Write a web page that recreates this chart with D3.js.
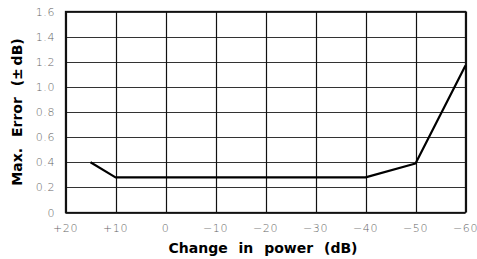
<!DOCTYPE html>
<html><head><meta charset="utf-8">
<script src="https://cdn.jsdelivr.net/npm/d3@7"></script>
<style>body{margin:0;background:#fff}svg{display:block}</style>
</head><body>
<svg id="c" width="477" height="259"></svg>
<script>
const xTicks = [20, 10, 0, -10, -20, -30, -40, -50, -60];
const xTickLabels = ["+20", "+10", "0", "\u221210", "\u221220", "\u221230", "\u221240", "\u221250", "\u221260"];
const yTicks = [0, 0.2, 0.4, 0.6, 0.8, 1.0, 1.2, 1.4, 1.6];
const yTickLabels = ["0", "0.2", "0.4", "0.6", "0.8", "1.0", "1.2", "1.4", "1.6"];
const powerChange = [15, 10, -40, -50, -60];
const maxError = [0.40, 0.28, 0.28, 0.39, 1.17];

const svg = d3.select("#c");
const x = d3.scaleLinear().domain([20, -60]).range([65.5, 465.5]);
const y = d3.scaleLinear().domain([0, 1.6]).range([212.5, 11.5]);

// horizontal grid
svg.append("g").selectAll("line").data(yTicks).join("line")
  .attr("x1", x(20)).attr("x2", x(-60))
  .attr("y1", d => Math.round(y(d)) + 0.5).attr("y2", d => Math.round(y(d)) + 0.5)
  .attr("stroke", "#333").attr("stroke-width", 1.2);
// vertical grid
svg.append("g").selectAll("line").data(xTicks).join("line")
  .attr("y1", y(0)).attr("y2", y(1.6))
  .attr("x1", d => Math.round(x(d)) + 0.5).attr("x2", d => Math.round(x(d)) + 0.5)
  .attr("stroke", "#111").attr("stroke-width", 1.2);

// frame
svg.append("rect").attr("x", x(20)).attr("y", y(1.6))
  .attr("width", x(-60) - x(20)).attr("height", y(0) - y(1.6))
  .attr("fill", "none").attr("stroke", "#111").attr("stroke-width", 1.3);

const tickFont = "'DejaVu Sans', sans-serif";
// x tick labels
svg.append("g").selectAll("text").data(xTicks).join("text")
  .attr("x", d => x(d)).attr("y", 231.5)
  .attr("text-anchor", "middle")
  .attr("font-family", tickFont).attr("font-size", 11).attr("font-weight", 300)
  .attr("letter-spacing", 0.6)
  .attr("fill", "#666")
  .text((d, i) => xTickLabels[i]);
// y tick labels
svg.append("g").selectAll("text").data(yTicks).join("text")
  .attr("x", 55).attr("y", d => y(d) + 4)
  .attr("text-anchor", "end")
  .attr("font-family", tickFont).attr("font-size", 11).attr("font-weight", 300)
  .attr("letter-spacing", 0.6)
  .attr("fill", "#666")
  .text((d, i) => yTickLabels[i]);

// data line
svg.append("path")
  .datum(powerChange.map((p, i) => [p, maxError[i]]))
  .attr("d", d3.line().x(d => x(d[0])).y(d => y(d[1])))
  .attr("fill", "none").attr("stroke", "#000").attr("stroke-width", 2.2)
  .attr("stroke-linejoin", "round");

// axis titles
svg.append("text").attr("x", 263).attr("y", 253)
  .attr("text-anchor", "middle")
  .attr("font-family", "'DejaVu Sans', sans-serif").attr("font-weight", "bold")
  .attr("font-size", 14).attr("word-spacing", 6).attr("fill", "#000")
  .text("Change in power (dB)");
svg.append("text")
  .attr("transform", "translate(22,112) rotate(-90)")
  .attr("text-anchor", "middle")
  .attr("font-family", "'DejaVu Sans', sans-serif").attr("font-weight", "bold")
  .attr("font-size", 14).attr("word-spacing", 6).attr("fill", "#000")
  .text("Max. Error (\u00b1\u2009dB)");
</script>
</body></html>
